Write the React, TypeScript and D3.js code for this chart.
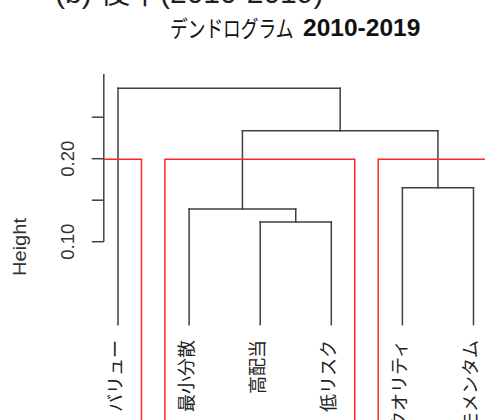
import React from "react";
import * as d3 from "d3";

// ---- data ----
const leafLabels = ["バリュー", "最小分散", "高配当", "低リスク", "クオリティ", "モメンタム"];
// R-style merge matrix: negative = leaf (1-based), positive = earlier merge (1-based)
const mergeA = [-3, -2, -5, 2, -1];
const mergeB = [-4, 1, -6, 3, 4];
const mergeHeights = [0.1237, 0.1394, 0.1651, 0.2337, 0.2848];
const clusterK = 3;
const yTicks = [0.1, 0.15, 0.2, 0.25];
const yTickLabels = ["0.10", "", "0.20", ""];
const titleJa = "デンドログラム";
const titleYears = "2010-2019";
const topText = "(b) 後半(2010-2019)";

const W = 485;
const H = 420;

export default function App() {
  const x = d3.scaleLinear().domain([0.8, 6.2]).range([103.8, 487.7]);
  const y = d3.scaleLinear().domain([0.1, 0.2]).range([241.7, 158.7]);
  const leafBottom = 0;

  const leafX = leafLabels.map((_, i) => i + 1);
  const nodeX: number[] = [];
  const nodeLeaves: number[][] = [];
  const posOf = (v: number) => (v < 0 ? leafX[-v - 1] : nodeX[v - 1]);
  const hOf = (v: number) => (v < 0 ? leafBottom : mergeHeights[v - 1]);
  const leavesOf = (v: number) => (v < 0 ? [-v - 1] : nodeLeaves[v - 1]);

  const segs: { x1: number; y1: number; x2: number; y2: number }[] = [];
  mergeA.forEach((a, i) => {
    const b = mergeB[i];
    const h = mergeHeights[i];
    const xa = posOf(a);
    const xb = posOf(b);
    nodeX.push((xa + xb) / 2);
    nodeLeaves.push([...leavesOf(a), ...leavesOf(b)]);
    segs.push({ x1: x(xa), y1: y(hOf(a)), x2: x(xa), y2: y(h) });
    segs.push({ x1: x(xb), y1: y(hOf(b)), x2: x(xb), y2: y(h) });
    segs.push({ x1: x(xa), y1: y(h), x2: x(xb), y2: y(h) });
  });

  // cut tree into k clusters
  const n = leafLabels.length;
  const items: number[] = [n - 1];
  while (items.length < clusterK) {
    let best = -1;
    let bestH = -Infinity;
    items.forEach((v, j) => {
      if (v > 0 && mergeHeights[v - 1] > bestH) {
        bestH = mergeHeights[v - 1];
        best = j;
      }
    });
    const v = items[best];
    items.splice(best, 1, mergeA[v - 1], mergeB[v - 1]);
  }
  const clusters = items
    .map((v) => leavesOf(v))
    .map((ls) => [Math.min(...ls) + 1, Math.max(...ls) + 1])
    .sort((a, b) => a[0] - b[0]);
  const sortedH = [...mergeHeights].sort((a, b) => b - a);
  const rectTop = (sortedH[clusterK - 2] + sortedH[clusterK - 1]) / 2;

  const dark = "#404040";
  const red = "#ff2626";
  const lw = 1.5;

  return (
    <svg
      width={W}
      height={H}
      style={{ position: "absolute", left: 0, top: 0, background: "#fff" }}
      fontFamily="'Liberation Sans', Arial, sans-serif"
    >
      <defs>
        <clipPath id="plotClip">
          <rect x={x(0.8)} y={0} width={x(6.2) - x(0.8)} height={H} />
        </clipPath>
      </defs>
      <rect x={0} y={0} width={W} height={H} fill="#fff" />

      {/* top cut text */}
      <text x={55} y={3} fontSize={30} fill="#1e1e1e" fontFamily="'Liberation Sans', 'Noto Sans CJK JP', sans-serif">
        {topText}
      </text>

      {/* title */}
      <text
        transform="translate(170,36.5) scale(0.77,1)"
        fill="#111"
        fontSize={23}
        fontFamily="'Noto Sans CJK JP', sans-serif"
      >
        {titleJa}
      </text>
      <text transform="translate(303,36) scale(1.045,1)" fill="#111" fontSize={23.5} fontWeight="bold">
        {titleYears}
      </text>

      {/* y axis */}
      <line x1={x(0.8)} x2={x(0.8)} y1={74} y2={y(yTicks[0])} stroke={dark} strokeWidth={lw} />
      {yTicks.map((t, i) => (
        <g key={"t" + i}>
          <line x1={x(0.8) - 12} x2={x(0.8)} y1={y(t)} y2={y(t)} stroke={dark} strokeWidth={lw} />
          {yTickLabels[i] && (
            <text
              transform={`translate(${67},${y(t)}) rotate(-90)`}
              textAnchor="middle"
              dominantBaseline="central"
              fontSize={18.5}
              fill="#333"
            >
              {yTickLabels[i]}
            </text>
          )}
        </g>
      ))}
      <text
        transform={`translate(${19.5},${247}) rotate(-90)`}
        textAnchor="middle"
        dominantBaseline="central"
        fontSize={17.5}
        fill="#333"
        textLength={58}
        lengthAdjust="spacingAndGlyphs"
      >
        Height
      </text>

      {/* dendrogram */}
      {segs.map((s, i) => (
        <line key={"s" + i} x1={s.x1} y1={s.y1} x2={s.x2} y2={s.y2} stroke={dark} strokeWidth={lw} strokeLinecap="square" />
      ))}

      {/* leaf labels */}
      {leafLabels.map((lab, i) => (
        <text
          key={"l" + i}
          transform={`translate(${x(leafX[i]) - 4.5},${340}) rotate(-90)`}
          textAnchor="end"
          dominantBaseline="central"
          fontSize={18}
          fill="#222"
          fontFamily="'Noto Sans CJK JP', sans-serif"
        >
          {lab}
        </text>
      ))}

      {/* rect.hclust */}
      <g clipPath="url(#plotClip)">
        {clusters.map((c, i) => {
          const x0 = x(c[0] - 1 + 0.66);
          const x1 = x(c[1] + 0.33);
          const yt = y(rectTop);
          return (
            <path
              key={"r" + i}
              d={`M${x0},${H + 10}V${yt}H${x1}V${H + 10}`}
              fill="none"
              stroke={red}
              strokeWidth={lw}
            />
          );
        })}
      </g>
    </svg>
  );
}
